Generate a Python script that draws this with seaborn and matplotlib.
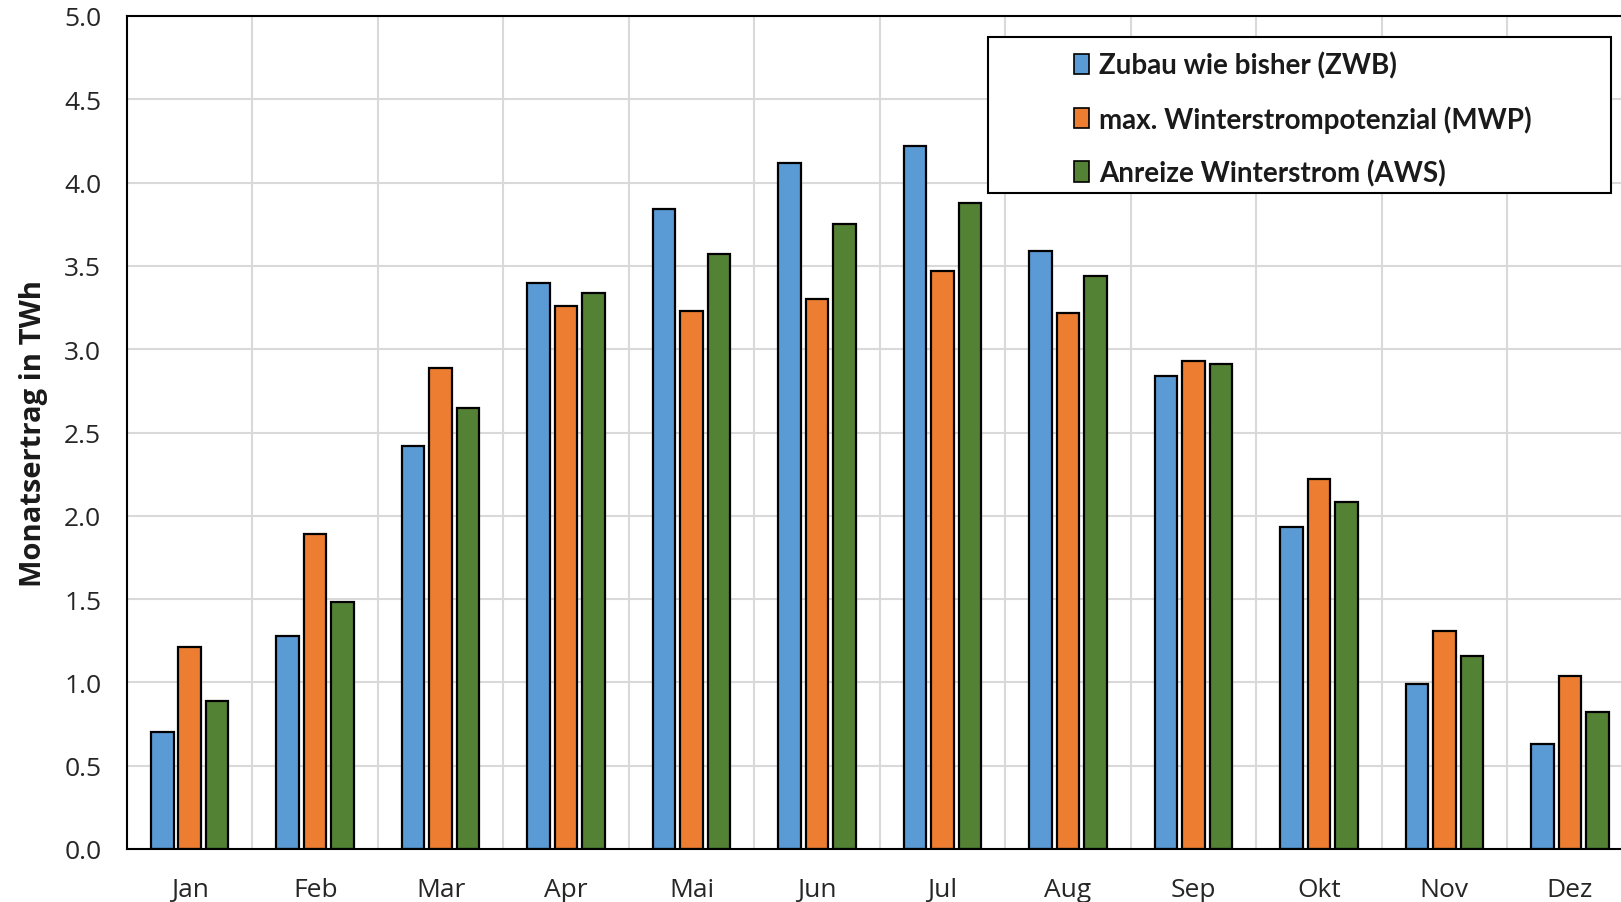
import matplotlib
matplotlib.use("Agg")
import matplotlib.pyplot as plt
from matplotlib.patches import Patch, Rectangle
import numpy as np
import pandas as pd
import seaborn as sns

# Monthly PV yield per scenario (TWh)
months = ["Jan", "Feb", "Mar", "Apr", "Mai", "Jun", "Jul", "Aug", "Sep", "Okt", "Nov", "Dez"]
scenarios = ["Zubau wie bisher (ZWB)", "max. Winterstrompotenzial (MWP)", "Anreize Winterstrom (AWS)"]
zwb = [0.70, 1.28, 2.42, 3.40, 3.84, 4.12, 4.22, 3.59, 2.84, 1.93, 0.99, 0.63]
mwp = [1.21, 1.89, 2.89, 3.26, 3.23, 3.30, 3.47, 3.22, 2.93, 2.22, 1.31, 1.04]
aws = [0.89, 1.48, 2.65, 3.34, 3.57, 3.75, 3.88, 3.44, 2.91, 2.08, 1.16, 0.82]
colors = ["#5B9BD5", "#ED7D31", "#548235"]

df = pd.DataFrame({
    "Monat": months * 3,
    "Szenario": [s for s in scenarios for _ in months],
    "Wert": zwb + mwp + aws,
})

sns.set_theme(style="white")
plt.rcParams["font.family"] = ["Open Sans", "DejaVu Sans"]

fig = plt.figure(figsize=(16.21, 9.03), dpi=100)
ax = fig.add_axes([127 / 1621, 53 / 903, 1505.5 / 1621, 833 / 903])

sns.barplot(
    data=df, x="Monat", y="Wert", hue="Szenario", order=months, hue_order=scenarios,
    palette=colors, width=0.657, gap=0.18, edgecolor="black", linewidth=1.6,
    saturation=1, ax=ax, legend=False,
)

ax.set_xlim(-0.5, len(months) - 0.5)
ax.set_ylim(0, 5.0)
ax.set_yticks(np.arange(0, 5.01, 0.5))
ax.set_yticklabels([f"{v:.1f}" for v in np.arange(0, 5.01, 0.5)])
ax.set_xticks(np.arange(len(months)), months)
ax.set_xticks(np.arange(len(months)) + 0.5, minor=True)

ax.set_axisbelow(True)
ax.grid(axis="y", which="major", color="#d9d9d9", linewidth=1.5)
ax.grid(axis="x", which="minor", color="#d9d9d9", linewidth=1.5)
ax.grid(axis="x", which="major", visible=False)

ax.tick_params(axis="both", which="both", length=0, labelsize=19, colors="#262626")
ax.tick_params(axis="x", pad=20)
ax.tick_params(axis="y", pad=18.5)

ax.set_xlabel("")
ax.set_ylabel("Monatsertrag in TWh", fontsize=21, fontweight="bold", color="#1a1a1a", labelpad=12)

for side in ["left", "top", "bottom", "right"]:
    ax.spines[side].set_visible(True)
    ax.spines[side].set_color("black")
    ax.spines[side].set_linewidth(1.5)

# Legend with a wide framed box
fig.patches.append(Rectangle((988 / 1621, 1 - 194 / 903), (1611 - 988) / 1621, (194 - 38) / 903,
                             transform=fig.transFigure, fill=True, facecolor="white",
                             edgecolor="black", linewidth=1.5, zorder=5))
handles = [Patch(facecolor=c, edgecolor="black", linewidth=1.2) for c in colors]
leg = fig.legend(handles, scenarios, loc="upper left", bbox_to_anchor=(1049 / 1621, 1 - 27.5 / 903),
                 frameon=False, handlelength=0.55, handleheight=0.75, handletextpad=0.35,
                 labelspacing=0.95, prop={"size": 20, "weight": "bold", "family": ["Lato", "DejaVu Sans"]})
leg.set_zorder(6)
for t in leg.get_texts():
    t.set_color("#1a1a1a")

fig.savefig("out.png", dpi=100)
